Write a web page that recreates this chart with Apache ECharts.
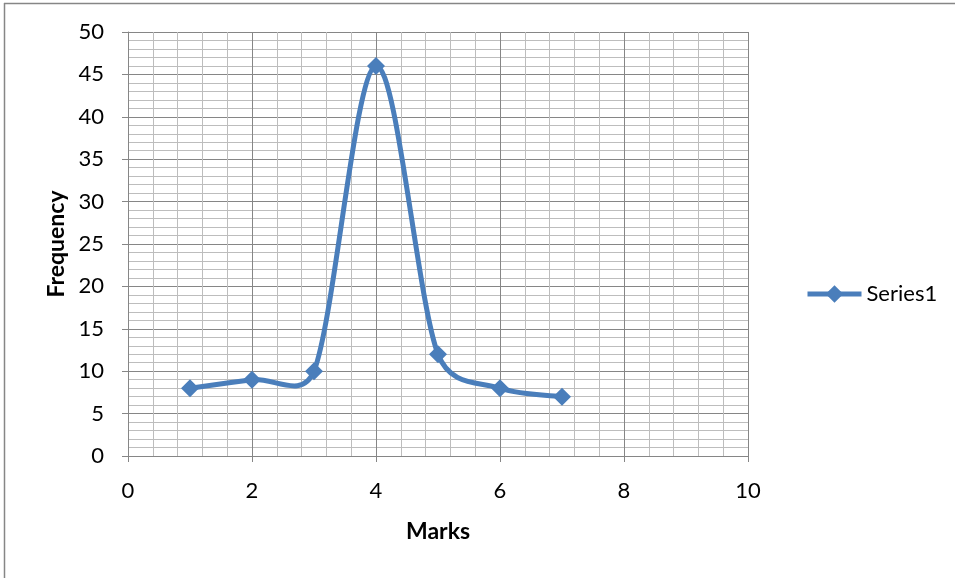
<!DOCTYPE html>
<html>
<head>
<meta charset="utf-8">
<script src="https://cdn.jsdelivr.net/npm/echarts@6/dist/echarts.min.js"></script>
<style>
  html, body { margin: 0; padding: 0; background: #fff; }
  #chart { width: 955px; height: 578px; }
</style>
</head>
<body>
<div id="chart"></div>
<script>
// Marks vs. frequency
const marks = [1, 2, 3, 4, 5, 6, 7];
const frequency = [8, 9, 10, 46, 12, 8, 7];
const seriesName = 'Series1';
const xTitle = 'Marks';
const yTitle = 'Frequency';

const FONT = 'Lato, "Open Sans", sans-serif';
const BLUE = '#4a7ebb';
const points = marks.map((m, i) => [m, frequency[i]]);

// Smoothed curve: Bezier segments with Catmull-Rom style tangents (1/6 of the
// neighbour span), each handle clamped to half of the adjacent segment length.
function handles(prev, cur, next) {
  const vx = next[0] - prev[0], vy = next[1] - prev[1];
  const vl = Math.hypot(vx, vy) || 1;
  const base = vl / 6;
  const dPrev = Math.hypot(cur[0] - prev[0], cur[1] - prev[1]);
  const dNext = Math.hypot(next[0] - cur[0], next[1] - cur[1]);
  const lIn = Math.min(base, dPrev / 2), lOut = Math.min(base, dNext / 2);
  return {
    cin: [cur[0] - vx / vl * lIn, cur[1] - vy / vl * lIn],
    cout: [cur[0] + vx / vl * lOut, cur[1] + vy / vl * lOut]
  };
}

function renderCurve(params, api) {
  const i = params.dataIndex;
  if (i >= points.length - 1) return null;
  const px = points.map(p => api.coord(p));
  const p0 = px[Math.max(i - 1, 0)], p1 = px[i], p2 = px[i + 1], p3 = px[Math.min(i + 2, px.length - 1)];
  const c1 = handles(p0, p1, p2).cout;
  const c2 = handles(p1, p2, p3).cin;
  return {
    type: 'bezierCurve',
    shape: { x1: p1[0], y1: p1[1], cpx1: c1[0], cpy1: c1[1], cpx2: c2[0], cpy2: c2[1], x2: p2[0], y2: p2[1] },
    style: { stroke: BLUE, lineWidth: 5, fill: null, lineCap: 'round' }
  };
}

const chart = echarts.init(document.getElementById('chart'), null, { renderer: 'canvas' });
chart.setOption({
  animation: false,
  backgroundColor: '#ffffff',
  textStyle: { fontFamily: FONT },
  graphic: [
    { type: 'line', shape: { x1: 4, y1: 3.5, x2: 955, y2: 3.5 }, style: { stroke: '#868686', lineWidth: 1.5 } },
    { type: 'line', shape: { x1: 4.5, y1: 3, x2: 4.5, y2: 578 }, style: { stroke: '#868686', lineWidth: 1.5 } }
  ],
  grid: { left: 128, top: 32, right: 207, bottom: 122, containLabel: false },
  legend: {
    left: 800, top: 278,
    itemWidth: 54, itemHeight: 22, itemGap: 4,
    textStyle: { fontSize: 22, color: '#000', fontFamily: FONT },
    data: [{ name: seriesName, lineStyle: { color: BLUE, width: 5, opacity: 1 } }]
  },
  xAxis: {
    type: 'value', min: 0, max: 10, interval: 2,
    name: xTitle, nameLocation: 'middle', nameGap: 64,
    nameTextStyle: { fontSize: 23, fontWeight: 'bold', color: '#000', fontFamily: FONT },
    axisLine: { show: true, onZero: false, lineStyle: { color: '#868686', width: 1 } },
    axisTick: { show: true, inside: false, length: 6, lineStyle: { color: '#868686' } },
    axisLabel: { fontSize: 22, color: '#000', margin: 24, fontFamily: FONT },
    splitLine: { show: true, lineStyle: { color: '#868686', width: 1 } },
    minorTick: { show: false, splitNumber: 5 },
    minorSplitLine: { show: true, lineStyle: { color: '#bdbdbd', width: 1 } }
  },
  yAxis: {
    type: 'value', min: 0, max: 50, interval: 5,
    name: yTitle, nameLocation: 'middle', nameGap: 60, nameRotate: 90,
    nameTextStyle: { fontSize: 23, fontWeight: 'bold', color: '#000', fontFamily: FONT },
    axisLine: { show: true, lineStyle: { color: '#868686', width: 1 } },
    axisTick: { show: true, inside: false, length: 6, lineStyle: { color: '#868686' } },
    axisLabel: { fontSize: 22, color: '#000', margin: 24, fontFamily: FONT },
    splitLine: { show: true, lineStyle: { color: '#868686', width: 1 } },
    minorTick: { show: false, splitNumber: 5 },
    minorSplitLine: { show: true, lineStyle: { color: '#bdbdbd', width: 1 } }
  },
  series: [
    {
      name: 'curve',
      type: 'custom',
      coordinateSystem: 'cartesian2d',
      data: points,
      renderItem: renderCurve,
      z: 2,
      silent: true
    },
    {
      name: seriesName,
      type: 'line',
      data: points,
      symbol: 'diamond',
      symbolSize: 18,
      itemStyle: { color: BLUE },
      lineStyle: { color: BLUE, width: 0, opacity: 0 },
      z: 3
    }
  ]
});
</script>
</body>
</html>
